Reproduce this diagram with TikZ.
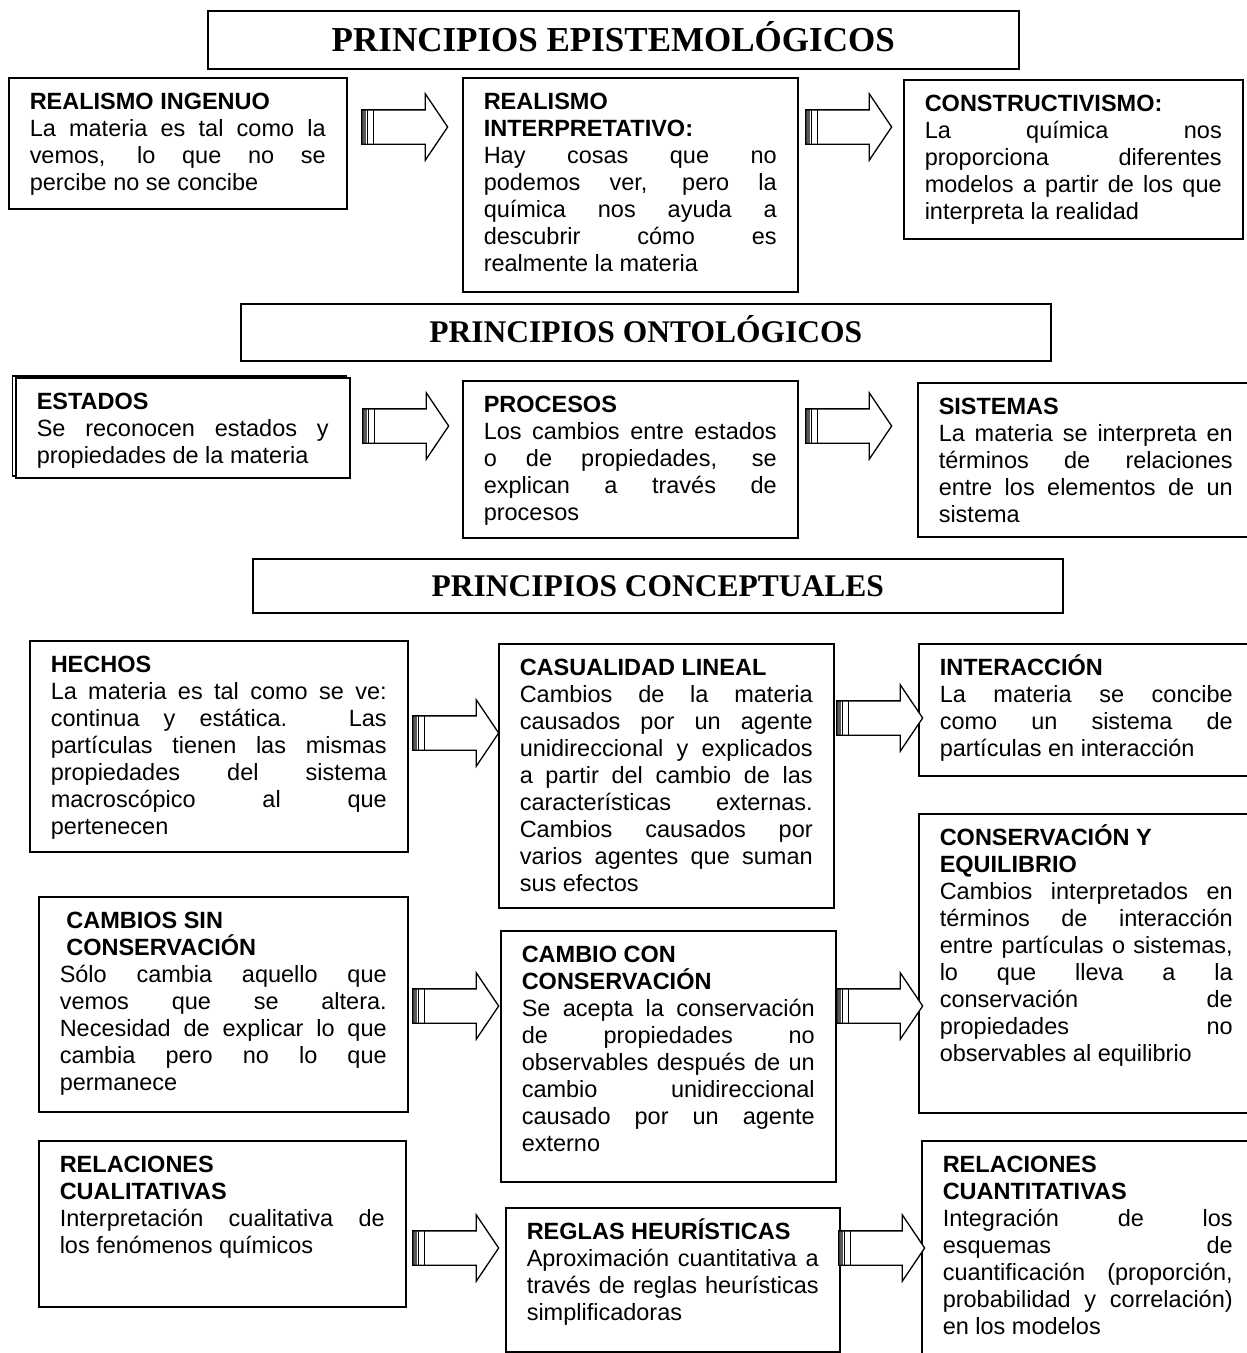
\documentclass[tikz,border=0pt]{standalone}
\usepackage{fontspec}
\setmainfont{Liberation Sans}
\newfontfamily\headfont{Liberation Serif}
\usepackage{tikz}
\usetikzlibrary{positioning}
\usetikzlibrary{shadows}
\usetikzlibrary{shapes.arrows}
\hyphenpenalty=10000
\exhyphenpenalty=10000
\tolerance=10000
\hbadness=10000
\tikzset{%
  % ---------------
  % section headers
  % ---------------
  principle/.style={rectangle, draw=black, line width=1.5pt, fill=white, anchor=north west, inner sep=0pt, text depth=0pt},
  % ------------------------
  % boxes with title and text
  % ------------------------
  concept/.style={rectangle, draw=black, line width=1.5pt, fill=white, anchor=north west,
    inner xsep=21pt, inner ysep=13pt, text height=19pt, align=justify,
    font=\fontsize{23.5}{27}\selectfont},% top aligned, height set by text depth
  %
  stacked/.style={general shadow={shadow xshift=-3.3pt, shadow yshift=2pt, draw=black, line width=1.5pt, fill=white}},
  % -------------------------
  % striped block arrow
  % -------------------------
  flecha/.style={single arrow, draw=black, line width=1.3pt, fill=white, anchor=tail,
    minimum height=86pt, minimum width=65pt, inner xsep=0pt, inner ysep=16.5pt,
    single arrow head extend=16pt, single arrow tip angle=112, single arrow head indent=0pt,
    path picture={
      \fill[black!65] (path picture bounding box.west) ++(0pt,-20pt) rectangle ++(4pt,40pt);
      \draw[line width=1pt] ([xshift=5.5pt]path picture bounding box.west) ++(0pt,-20pt) -- ++(0pt,40pt);
      \draw[line width=1pt] ([xshift=12pt]path picture bounding box.west) ++(0pt,-20pt) -- ++(0pt,40pt);
    }}}

\begin{document}
\begin{tikzpicture}[x=1pt,y=-1pt]
    \useasboundingbox (0,0) rectangle (1247,1353);
    \clip (0,0) rectangle (1247,1353);

    % epistemologicos
    \node[principle, minimum width=811pt, minimum height=58pt, text height=23pt, font=\headfont\bfseries\fontsize{35}{40}\selectfont] (epistemo) at (207,10) {PRINCIPIOS EPISTEMOLÓGICOS};

    \node[concept, text width=296pt, text depth=86pt] (ingenuo) at (8,77) {\textbf{REALISMO INGENUO}\\La materia es tal como la\linebreak vemos, lo que no se\linebreak percibe no se concibe};
    \node[concept, text width=293pt, text depth=169pt] (interp) at (462,77) {\textbf{REALISMO}\\\textbf{INTERPRETATIVO:}\\Hay cosas que no\linebreak podemos ver, pero la\linebreak química nos ayuda a\linebreak descubrir cómo es\linebreak realmente la materia};
    \node[concept, text width=297pt, text depth=114pt] (construct) at (903,79) {\textbf{CONSTRUCTIVISMO:}\\La química nos\linebreak proporciona diferentes\linebreak modelos a partir de los que\linebreak interpreta la realidad};

    \node[flecha] (a1) at (361,127) {};
    \node[flecha] (a2) at (805,127) {};

    % ontologicos
    \node[principle, minimum width=810pt, minimum height=57pt, text height=21pt, font=\headfont\bfseries\fontsize{31.5}{36}\selectfont] (ontolo) at (240,303) {PRINCIPIOS ONTOLÓGICOS};

    \node[concept, stacked, text width=292pt, text depth=55pt] (estados) at (15,377) {\textbf{ESTADOS}\\Se reconocen estados y\linebreak propiedades de la materia};
    \node[concept, text width=293pt, text depth=112pt] (procesos) at (462,380) {\textbf{PROCESOS}\\Los cambios entre estados\linebreak o de propiedades, se\linebreak explican a través de\linebreak procesos};
    \node[concept, text width=294pt, text depth=109pt] (sistemas) at (917,382) {\textbf{SISTEMAS}\\La materia se interpreta en\linebreak términos de relaciones\linebreak entre los elementos de un\linebreak sistema};

    \node[flecha] (a3) at (362,426) {};
    \node[flecha] (a4) at (805,426) {};

    % conceptuales
    \node[principle, minimum width=810pt, minimum height=54pt, text height=21pt, font=\headfont\bfseries\fontsize{31.5}{36}\selectfont] (concep) at (252,558) {PRINCIPIOS CONCEPTUALES};

    \node[concept, text width=336pt, text depth=166pt] (hechos) at (29,640) {\textbf{HECHOS}\\La materia es tal como se ve:\linebreak continua y estática. Las\linebreak partículas tienen las mismas\linebreak propiedades del sistema\linebreak macroscópico al que\linebreak pertenecen};
    \node[concept, text width=293pt, text depth=219pt] (causal) at (498,643) {\textbf{CASUALIDAD LINEAL}\\Cambios de la materia\linebreak causados por un agente\linebreak unidireccional y explicados\linebreak a partir del cambio de las\linebreak características externas.\linebreak Cambios causados por\linebreak varios agentes que suman\linebreak sus efectos};
    \node[concept, text width=293pt, text depth=87pt] (interac) at (918,643) {\textbf{INTERACCIÓN}\\La materia se concibe\linebreak como un sistema de\linebreak partículas en interacción};

    \node[concept, text width=327pt, text depth=170pt] (sinconserv) at (38,896) {\textbf{\hspace*{.28em}CAMBIOS SIN}\\\textbf{\hspace*{.28em}CONSERVACIÓN}\\Sólo cambia aquello que\linebreak vemos que se altera.\linebreak Necesidad de explicar lo que\linebreak cambia pero no lo que\linebreak permanece};
    \node[concept, text width=293pt, text depth=206pt] (conconserv) at (500,930) {\textbf{CAMBIO CON}\\\textbf{CONSERVACIÓN}\\Se acepta la conservación\linebreak de propiedades no\linebreak observables después de un\linebreak cambio unidireccional\linebreak causado por un agente\linebreak externo};
    \node[concept, text width=293pt, text depth=254pt] (equilib) at (918,813) {\textbf{CONSERVACIÓN Y}\\\textbf{EQUILIBRIO}\\Cambios interpretados en\linebreak términos de interacción\linebreak entre partículas o sistemas,\linebreak lo que lleva a la\linebreak conservación de\linebreak propiedades no\linebreak observables al equilibrio};

    \node[concept, text width=325pt, text depth=121pt] (cualit) at (38,1140) {\textbf{RELACIONES}\\\textbf{CUALITATIVAS}\\Interpretación cualitativa de\linebreak los fenómenos químicos};
    \node[concept, text width=292pt, text depth=99pt] (heurist) at (505,1207) {\textbf{REGLAS HEURÍSTICAS}\\Aproximación cuantitativa a\linebreak través de reglas heurísticas\linebreak simplificadoras};
    \node[concept, text width=290pt, text depth=215pt] (cuantit) at (921,1140) {\textbf{RELACIONES}\\\textbf{CUANTITATIVAS}\\Integración de los\linebreak esquemas de\linebreak cuantificación (proporción,\linebreak probabilidad y correlación)\linebreak en los modelos};

    \node[flecha] (a5) at (412,733) {};
    \node[flecha] (a6) at (836,718) {};
    \node[flecha] (a7) at (412,1006) {};
    \node[flecha] (a8) at (836,1006) {};
    \node[flecha] (a9) at (412,1248) {};
    \node[flecha] (a10) at (838,1248) {};

    \end{tikzpicture}
\end{document}
